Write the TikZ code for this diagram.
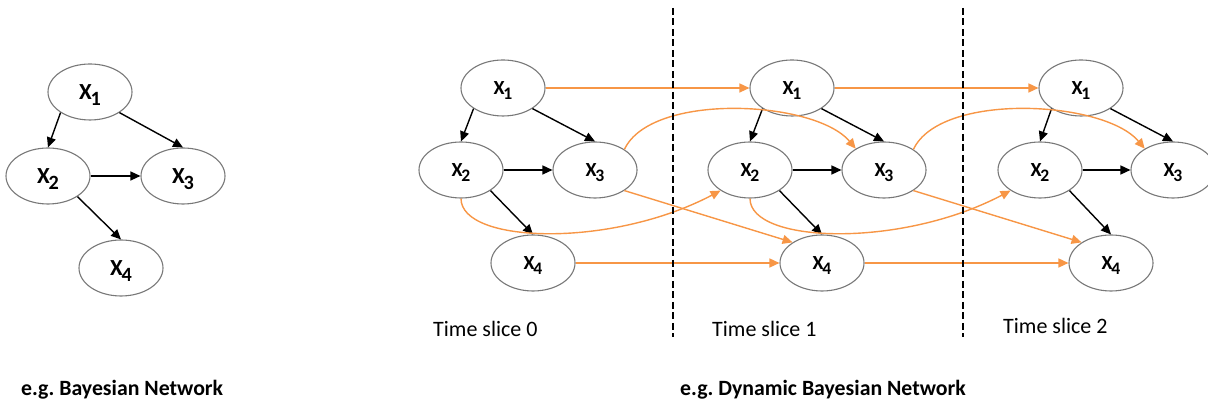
\documentclass[tikz,border=0pt]{standalone}
\usepackage{fontspec}
\setmainfont{Carlito}
\frenchspacing
\usetikzlibrary{arrows.meta, shapes.geometric}
\definecolor{dbnorange}{RGB}{247,150,70}
\definecolor{nodegray}{RGB}{120,120,120}
\tikzset{
    rv/.style={draw=nodegray, line width=1.1pt, ellipse, minimum width=84pt, minimum height=56pt,
        inner sep=0pt, font=\bfseries\fontsize{20}{20}\selectfont},
    bnrv/.style={rv, font=\bfseries\fontsize{23}{23}\selectfont},
    intra/.style={-{Triangle[length=10pt,width=9pt]}, line width=1.4pt, black},
    inter/.style={-{Triangle[length=10pt,width=9pt]}, line width=1.4pt, dbnorange},
    slicebar/.style={line width=2.4pt, dash pattern=on 7pt off 3.5pt},
    slicelabel/.style={anchor=west, inner sep=0pt, font=\fontsize{22}{22}\selectfont},
    capt/.style={anchor=west, inner sep=0pt, font=\bfseries\fontsize{21.8}{21.8}\selectfont}
}
\newcommand{\xv}[1]{X\kern-0.06em\raisebox{-0.26em}[0pt][0pt]{\scalebox{0.88}{#1}}}

\begin{document}
\begin{tikzpicture}[x=1pt, y=1pt]
    \useasboundingbox (0,0) rectangle (1208,403);
    % Bayesian network
    \node[bnrv] (b1) at (90,311) {\xv{1}};
    \node[bnrv] (b2) at (48,227) {\xv{2}};
    \node[bnrv] (b3) at (183,227) {\xv{3}};
    \node[bnrv] (b4) at (121,135) {\xv{4}};
    \draw[intra] (b1.215) -- (b2.north);
    \draw[intra] (b1.325) -- (b3.north);
    \draw[intra] (b2.east) -- (b3.west);
    \draw[intra] (b2.325) -- (b4.north);
    \node[capt] (bcap) at (21,13) {e.g. Bayesian Network};
    % dynamic Bayesian network, time slice 0
    \node[rv] (p1) at (503,315) {\xv{1}};
    \node[rv] (p2) at (461,233) {\xv{2}};
    \node[rv] (p3) at (595,233) {\xv{3}};
    \node[rv] (p4) at (533,140) {\xv{4}};
    % time slice 1
    \node[rv] (q1) at (792,315) {\xv{1}};
    \node[rv] (q2) at (750,233) {\xv{2}};
    \node[rv] (q3) at (884,233) {\xv{3}};
    \node[rv] (q4) at (822,140) {\xv{4}};
    % time slice 2
    \node[rv] (r1) at (1081,315) {\xv{1}};
    \node[rv] (r2) at (1040,233) {\xv{2}};
    \node[rv] (r3) at (1173,233) {\xv{3}};
    \node[rv] (r4) at (1111,140) {\xv{4}};
    \draw[intra] (p1.215) -- (p2.north);
    \draw[intra] (p1.325) -- (p3.north);
    \draw[intra] (p2.east) -- (p3.west);
    \draw[intra] (p2.325) -- (p4.north);
    \draw[intra] (q1.215) -- (q2.north);
    \draw[intra] (q1.325) -- (q3.north);
    \draw[intra] (q2.east) -- (q3.west);
    \draw[intra] (q2.325) -- (q4.north);
    \draw[intra] (r1.215) -- (r2.north);
    \draw[intra] (r1.325) -- (r3.north);
    \draw[intra] (r2.east) -- (r3.west);
    \draw[intra] (r2.325) -- (r4.north);
    % transitions 0 -> 1
    \draw[inter] (p1.east) -- (q1.west);
    \draw[inter] (p4.east) -- (q4.west);
    \draw[inter] (p3.325) -- (q4.145);
    \draw[inter] (p2.south) .. controls +(0,-45) and +(-110,-58) .. (q2.215);
    \draw[inter] (p3.35) to[out=65, in=130, looseness=0.7] (q3.143);
    % transitions 1 -> 2
    \draw[inter] (q1.east) -- (r1.west);
    \draw[inter] (q4.east) -- (r4.west);
    \draw[inter] (q3.325) -- (r4.145);
    \draw[inter] (q2.south) .. controls +(0,-45) and +(-110,-58) .. (r2.215);
    \draw[inter] (q3.35) to[out=65, in=130, looseness=0.7] (r3.143);
    % slice borders
    \coordinate (d1t) at (673,395);
    \coordinate (d1b) at (673,66);
    \coordinate (d2t) at (963,395);
    \coordinate (d2b) at (963,66);
    \draw[slicebar] (d1t) -- (d1b);
    \draw[slicebar] (d2t) -- (d2b);
    \node[slicelabel] (t0) at (433,74) {Time slice 0};
    \node[slicelabel] (t1) at (712,74) {Time slice 1};
    \node[slicelabel] (t2) at (1003,77) {Time slice 2};
    \node[capt] (dcap) at (680,13) {e.g. Dynamic Bayesian Network};
\end{tikzpicture}
\end{document}
